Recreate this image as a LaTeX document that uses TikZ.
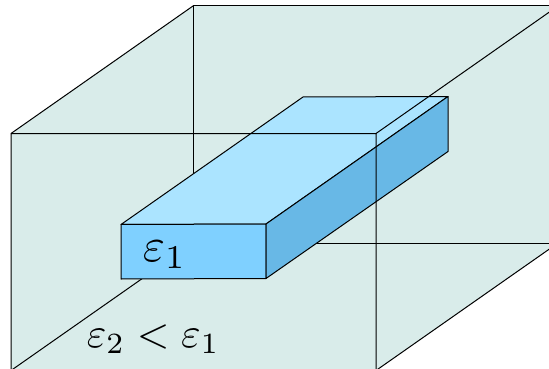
\documentclass[tikz,border=0pt]{standalone}
\definecolor{outerfill}{HTML}{D9ECEA}
\definecolor{topfill}{HTML}{ABE4FF}
\definecolor{frontfill}{HTML}{7FD0FF}
\definecolor{sidefill}{HTML}{68B8E6}
\tikzset{edge/.style={draw=black,line width=1pt,line join=round}}
\begin{document}
\begin{tikzpicture}[x=1pt,y=-1pt]
\useasboundingbox (0,0) rectangle (549,369);
\clip (0,0) rectangle (549,369);
% outer box corners
\coordinate (ftl) at (11,133.5);
\coordinate (ftr) at (376,133.5);
\coordinate (fbl) at (11,370.5);
\coordinate (fbr) at (376,370.5);
\coordinate (btl) at (193,6);
\coordinate (btr) at (558,6);
\coordinate (bbl) at (193,243);
\coordinate (bbr) at (558,243);
% inner box corners
\coordinate (a) at (121,224.5);
\coordinate (b) at (266,224);
\coordinate (c) at (266,278.5);
\coordinate (d) at (121,279);
\coordinate (e) at (303,97);
\coordinate (f) at (448,96.5);
\coordinate (g) at (448,151.5);
% outer fill and hidden edges
\fill[outerfill] (ftl) -- (btl) -- (btr) -- (bbr) -- (fbr) -- (fbl) -- cycle;
\draw[edge] (btl) -- (bbl) -- (bbr);
\draw[edge] (fbl) -- (bbl);
\draw[edge] (btl) -- (btr);
\draw[edge] (ftl) -- (btl);
% inner box
\path[edge,fill=topfill] (a) -- (e) -- (f) -- (b) -- cycle;
\path[edge,fill=frontfill] (a) -- (b) -- (c) -- (d) -- cycle;
\path[edge,fill=sidefill] (b) -- (f) -- (g) -- (c) -- cycle;
% front edges of outer box
\draw[edge] (fbl) -- (ftl) -- (ftr) -- (fbr) -- (bbr);
\draw[edge] (ftr) -- (btr);
% labels
\node[inner sep=0pt,anchor=base west,scale=4.75] (eone) at (142,261) {$\varepsilon_1$};
\node[inner sep=0pt,anchor=base west,scale=4.2] (etwo) at (86,347) {$\varepsilon_2<\varepsilon_1$};
\end{tikzpicture}
\end{document}
